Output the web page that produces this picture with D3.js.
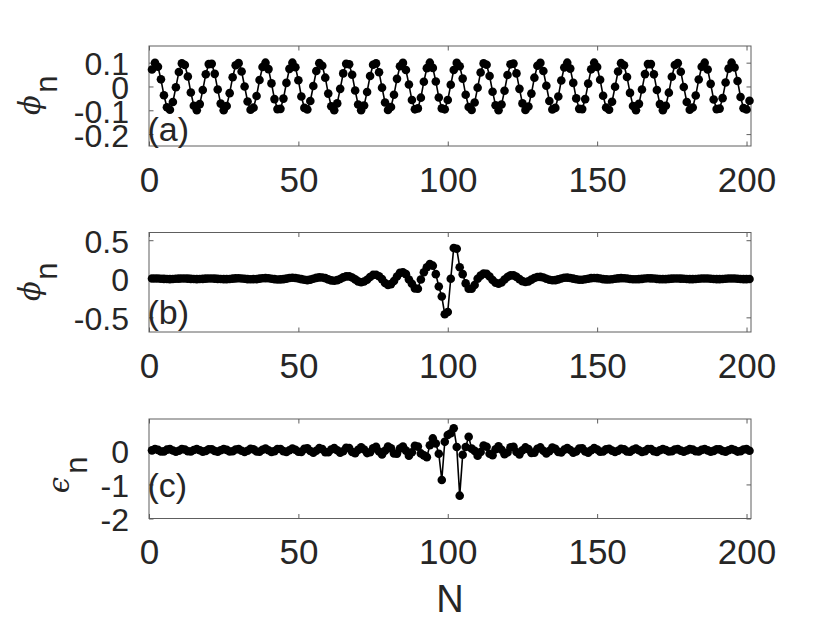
<!DOCTYPE html>
<html><head><meta charset="utf-8">
<script src="https://cdn.jsdelivr.net/npm/d3@7"></script>
<style>
html,body{margin:0;padding:0;background:#fff;}
svg{display:block;}
text{font-family:"Liberation Sans",Arial,Helvetica,sans-serif;fill:#262626;}
</style></head>
<body>
<svg id="chart" width="830" height="623"></svg>
<script>
// ---- data ----
const sites = d3.range(1, 202); // N = 1..201

const phiA = [0.071,0.099,0.083,0.030,-0.037,-0.087,-0.098,-0.065,-0.003,0.061,
0.097,0.090,0.042,-0.025,-0.081,-0.100,-0.074,-0.015,0.051,0.094,
0.095,0.053,-0.013,-0.072,-0.100,-0.082,-0.028,0.039,0.089,0.098,
0.063,0.000,-0.063,-0.098,-0.089,-0.040,0.027,0.082,0.100,0.073,
0.013,-0.053,-0.095,-0.094,-0.051,0.015,0.074,0.100,0.081,0.026,
-0.042,-0.090,-0.097,-0.061,0.002,0.065,0.098,0.087,0.037,-0.030,
-0.083,-0.100,-0.071,-0.010,0.055,0.095,0.093,0.049,-0.017,-0.076,
-0.100,-0.080,-0.023,0.044,0.091,0.097,0.060,-0.005,-0.067,-0.099,
-0.086,-0.035,0.032,0.085,0.099,0.069,0.008,-0.057,-0.096,-0.092,
-0.047,0.020,0.077,0.100,0.078,0.021,-0.046,-0.092,-0.096,-0.057,
0.007,0.069,0.099,0.085,0.033,-0.035,-0.086,-0.099,-0.067,-0.005,
0.059,0.097,0.091,0.044,-0.022,-0.079,-0.100,-0.076,-0.018,0.048,
0.093,0.096,0.055,-0.010,-0.071,-0.099,-0.084,-0.030,0.037,0.087,
0.099,0.065,0.003,-0.061,-0.097,-0.090,-0.042,0.025,0.080,0.100,
0.075,0.015,-0.050,-0.094,-0.095,-0.053,0.012,0.072,0.100,0.082,
0.028,-0.039,-0.088,-0.098,-0.064,-0.001,0.063,0.098,0.089,0.040,
-0.027,-0.082,-0.100,-0.073,-0.013,0.052,0.094,0.094,0.051,-0.015,
-0.074,-0.100,-0.081,-0.026,0.041,0.090,0.098,0.062,-0.002,-0.065,
-0.098,-0.088,-0.038,0.029,0.083,0.100,0.071,0.011,-0.055,-0.095,
-0.093,-0.049,0.017,0.075,0.100,0.080,0.023,-0.044,-0.091,-0.097,
-0.060];

const phiB = [0.003,0.004,0.003,0.001,-0.001,-0.003,-0.004,-0.003,0.000,0.002,
0.004,0.004,0.002,-0.001,-0.003,-0.004,-0.003,-0.001,0.002,0.004,
0.004,0.002,-0.001,-0.003,-0.004,-0.005,-0.002,0.002,0.005,0.006,
0.004,0.000,-0.004,-0.006,-0.005,-0.004,0.002,0.007,0.009,0.007,
0.001,-0.005,-0.009,-0.008,-0.005,0.002,0.010,0.013,0.011,0.003,
-0.005,-0.012,-0.017,-0.011,0.000,0.012,0.018,0.016,0.009,-0.008,
-0.021,-0.025,-0.018,-0.003,0.018,0.031,0.031,0.016,-0.008,-0.034,
-0.045,-0.036,-0.013,0.024,0.050,0.053,0.033,-0.004,-0.054,-0.079,
-0.069,-0.028,0.029,0.077,0.085,0.060,-0.010,-0.065,-0.125,-0.130,
-0.010,0.085,0.150,0.190,0.170,0.060,-0.100,-0.230,-0.460,-0.430,
0.000,0.400,0.390,0.150,0.060,-0.060,-0.130,-0.130,-0.080,0.000,
0.041,0.068,0.064,0.029,-0.015,-0.052,-0.065,-0.048,-0.010,0.024,
0.044,0.044,0.025,-0.004,-0.031,-0.042,-0.034,-0.011,0.011,0.023,
0.025,0.016,0.001,-0.013,-0.019,-0.017,-0.008,0.004,0.013,0.015,
0.011,0.002,-0.007,-0.012,-0.012,-0.006,0.001,0.008,0.011,0.008,
0.003,-0.004,-0.008,-0.009,-0.006,0.000,0.005,0.008,0.007,0.003,
-0.002,-0.006,-0.007,-0.004,-0.001,0.003,0.006,0.005,0.003,-0.001,
-0.004,-0.005,-0.004,-0.001,0.002,0.004,0.004,0.002,0.000,-0.003,
-0.004,-0.004,-0.002,0.001,0.003,0.004,0.003,0.000,-0.002,-0.004,
-0.004,-0.002,0.001,0.003,0.004,0.003,0.001,-0.002,-0.004,-0.004,
-0.002];

const epsC = [0.000,0.040,0.015,-0.033,-0.029,0.020,0.037,-0.006,-0.040,-0.010,
0.035,0.025,-0.026,-0.035,0.012,0.040,0.004,-0.038,-0.019,0.031,
0.032,-0.018,-0.039,0.002,0.040,0.014,-0.034,-0.028,0.023,0.037,
-0.011,-0.050,-0.011,0.046,0.029,-0.034,-0.043,0.017,0.050,0.004,
-0.049,-0.022,0.041,0.039,-0.024,-0.048,0.005,0.050,0.016,-0.043,
-0.046,0.043,0.062,-0.018,-0.070,-0.011,0.064,0.036,-0.051,-0.057,
0.027,0.070,0.001,-0.069,-0.028,0.073,0.066,-0.047,-0.085,0.014,
0.090,0.025,-0.080,-0.055,0.059,0.106,-0.034,-0.120,-0.012,0.115,
0.058,-0.091,-0.096,0.054,0.115,-0.008,-0.158,-0.056,0.134,0.110,
-0.090,-0.147,-0.200,0.150,0.350,0.200,-0.100,-0.870,0.250,0.450,
0.500,0.650,0.100,-1.330,-0.130,0.100,0.400,0.050,-0.016,-0.160,
-0.048,0.141,0.106,-0.098,-0.144,0.030,0.120,0.019,-0.113,-0.065,
0.088,0.101,-0.048,-0.118,0.001,0.086,0.037,-0.074,-0.066,0.046,
0.086,-0.014,-0.090,-0.023,0.079,0.043,-0.046,-0.062,0.020,0.070,
0.009,-0.067,-0.035,0.054,0.057,-0.031,-0.068,0.003,0.070,0.024,
-0.042,-0.035,0.028,0.046,-0.009,-0.050,-0.011,0.046,0.029,-0.034,
-0.043,0.017,0.050,0.004,-0.049,-0.023,0.039,0.039,-0.024,-0.048,
0.004,0.040,0.012,-0.034,-0.026,0.025,0.037,-0.009,-0.040,-0.006,
0.037,0.022,-0.028,-0.033,0.015,0.040,0.000,-0.039,-0.016,0.032,
0.029,-0.021,-0.038,0.005,0.040,0.011,-0.036,-0.024,0.026,0.035,
-0.011];

const xTicks = [0, 50, 100, 150, 200];
const yTicksA = [-0.2, -0.1, 0, 0.1];
const yTicksB = [-0.5, 0, 0.5];
const yTicksC = [-2, -1, 0];
const panelTags = ["(a)", "(b)", "(c)"];
const ySymbols = ["\u03D5", "\u03D5", "\u03F5"];
const xLabel = "N";

// ---- layout ----
const svg = d3.select("#chart");
const L = 149, R = 751;
const x = d3.scaleLinear().domain([0, 201.5]).range([L, R]);

const panels = [
  {vals: phiA, ticks: yTicksA, dom: [-0.25, 0.17], top: 46, bot: 146, tag: panelTags[0], sym: ySymbols[0],
   tagBase: 141, symX: 40, subX: 57, symY: 105, subY: 84},
  {vals: phiB, ticks: yTicksB, dom: [-0.69, 0.60], top: 232.5, bot: 332, tag: panelTags[1], sym: ySymbols[1],
   tagBase: 324, symX: 40, subX: 57, symY: 291, subY: 271},
  {vals: epsC, ticks: yTicksC, dom: [-2, 0.92], top: 419, bot: 518.5, tag: panelTags[2], sym: ySymbols[2],
   tagBase: 497, symX: 69, subX: 87, symY: 485, subY: 465}
];

panels.forEach(p => {
  const y = d3.scaleLinear().domain(p.dom).range([p.bot, p.top]);
  const g = svg.append("g");

  // box
  g.append("rect").attr("x", L).attr("y", p.top).attr("width", R - L).attr("height", p.bot - p.top)
    .attr("fill", "none").attr("stroke", "#5e5e5e").attr("stroke-width", 1);

  const styleAxis = sel => {
    sel.select(".domain").remove();
    sel.selectAll(".tick line").attr("stroke", "#5e5e5e").attr("stroke-width", 1);
  };
  // bottom axis with labels
  const ax = g.append("g").attr("transform", `translate(0,${p.bot})`)
    .call(d3.axisBottom(x).tickValues(xTicks).tickSize(-4.5).tickPadding(21).tickFormat(d => String(d)));
  styleAxis(ax);
  ax.selectAll("text").attr("font-size", 35).attr("fill", "#262626")
    .style("font-family", '"Liberation Sans",Arial,sans-serif');
  // top axis ticks only
  const axT = g.append("g").attr("transform", `translate(0,${p.top})`)
    .call(d3.axisTop(x).tickValues(xTicks).tickSize(-4.5).tickFormat(""));
  styleAxis(axT);
  // left axis with labels
  const ay = g.append("g").attr("transform", `translate(${L},0)`)
    .call(d3.axisLeft(y).tickValues(p.ticks).tickSize(-4.5).tickPadding(20).tickFormat(d => String(d)));
  styleAxis(ay);
  ay.selectAll("text").attr("font-size", 32).attr("dy", "0.38em").attr("fill", "#262626")
    .style("font-family", '"Liberation Sans",Arial,sans-serif');
  // right axis ticks only
  const ayR = g.append("g").attr("transform", `translate(${R},0)`)
    .call(d3.axisRight(y).tickValues(p.ticks).tickSize(-4.5).tickFormat(""));
  styleAxis(ayR);

  // data line + markers
  const data = sites.map((n, i) => ({n, v: p.vals[i]}));
  g.append("path").datum(data)
    .attr("fill", "none").attr("stroke", "#000").attr("stroke-width", 1.6)
    .attr("d", d3.line().x(d => x(d.n)).y(d => y(d.v)));
  g.selectAll("circle.m").data(data).join("circle").attr("class", "m")
    .attr("cx", d => x(d.n)).attr("cy", d => y(d.v)).attr("r", 4.3).attr("fill", "#000");

  // panel tag
  g.append("text").attr("x", L - 1.5).attr("y", p.tagBase).attr("font-size", 34)
    .attr("fill", "#000").text(p.tag);

  // y label: greek symbol + subscript n, rotated
  g.append("text").attr("transform", `translate(${p.symX},${p.symY}) rotate(-90)`)
    .attr("text-anchor", "middle").attr("font-size", 29).attr("font-style", "italic")
    .style("font-family", '"DejaVu Serif",serif').attr("fill", "#262626").text(p.sym);
  g.append("text").attr("transform", `translate(${p.subX},${p.subY}) rotate(-90)`)
    .attr("text-anchor", "middle").attr("font-size", 31).attr("fill", "#262626").text("n");
});

// x label
svg.append("text").attr("x", 450).attr("y", 611.5).attr("text-anchor", "middle")
  .attr("font-size", 38).attr("fill", "#262626").text(xLabel);
</script>
</body></html>
